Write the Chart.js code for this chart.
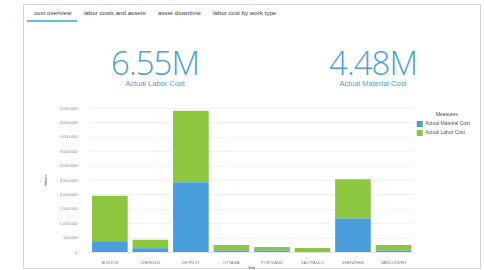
<!DOCTYPE html>
<html lang="en">
<head>
<meta charset="UTF-8">
<title>cost overview</title>
<script src="https://cdn.jsdelivr.net/npm/chart.js@4.4.0/dist/chart.umd.min.js"></script>
<style>
    body {
        margin: 0;
        width: 484px;
        height: 270px;
        background: #ffffff;
        font-family: 'Liberation Sans', Arial, sans-serif;
        overflow: hidden;
    }
    .panel {
        position: absolute;
        left: 23px;
        top: 4px;
        width: 458px;
        height: 265px;
        border: 1px solid #d4d4d4;
        box-sizing: border-box;
    }
    .tab {
        position: absolute;
        top: 9px;
        font-size: 6.2px;
        color: #3a3a3a;
        white-space: nowrap;
    }
    .underline {
        position: absolute;
        left: 27px;
        top: 20px;
        width: 50px;
        height: 2px;
        background: #5ebfd6;
    }
    .kpi {
        position: absolute;
        top: 46px;
        width: 160px;
        text-align: center;
        color: #4b9fd8;
    }
    .kpi .value {
        font-family: 'Open Sans', sans-serif;
        font-weight: 300;
        font-size: 33px;
        line-height: 34px;
        letter-spacing: -1px;
    }
    .kpi .label {
        font-size: 7.5px;
        margin-top: -1px;
    }
    .chart-box {
        position: absolute;
        left: 43px;
        top: 94px;
        width: 437px;
        height: 176px;
    }
</style>
</head>
<body>
<div class="panel"></div>
<span class="tab" style="left:34px">cost overview</span>
<span class="tab" style="left:84px">labor costs and assets</span>
<span class="tab" style="left:158px">asset downtime</span>
<span class="tab" style="left:213px">labor cost by work type</span>
<div class="underline"></div>
<div class="kpi" style="left:75px">
    <div class="value">6.55M</div>
    <div class="label">Actual Labor Cost</div>
</div>
<div class="kpi" style="left:293px">
    <div class="value">4.48M</div>
    <div class="label">Actual Material Cost</div>
</div>
<div class="chart-box">
    <canvas id="cost-chart"></canvas>
</div>

<script>
    // data
    const sites = ['BOSTON', 'CHENGDU', 'DETROIT', 'OTTAWA', 'PORTLAND', 'SAO PAULO', 'SHENZHEN', 'VANCOUVER'];
    const materialCost = [390000, 140000, 2440000, 70000, 70000, 40000, 1180000, 70000];
    const laborCost = [1580000, 300000, 2480000, 190000, 120000, 110000, 1360000, 190000];

    const blue = '#4a9edb';
    const green = '#8dc63f';

    new Chart(document.getElementById('cost-chart'), {
        type: 'bar',
        data: {
            labels: sites,
            datasets: [
                { label: 'Actual Material Cost', data: materialCost, backgroundColor: blue },
                { label: 'Actual Labor Cost', data: laborCost, backgroundColor: green }
            ]
        },
        options: {
            responsive: true,
            maintainAspectRatio: false,
            animation: false,
            devicePixelRatio: 1,
            categoryPercentage: 0.88,
            barPercentage: 1,
            layout: { padding: { top: 4, right: 0, bottom: 0, left: 0 } },
            plugins: {
                tooltip: { enabled: false },
                legend: {
                    position: 'right',
                    align: 'start',
                    title: {
                        display: true,
                        text: 'Measures',
                        color: '#444',
                        font: { size: 5 },
                        padding: { top: 14, bottom: 0 }
                    },
                    labels: {
                        boxWidth: 6,
                        boxHeight: 6,
                        padding: 3,
                        color: '#555',
                        font: { size: 5 }
                    }
                }
            },
            scales: {
                x: {
                    stacked: true,
                    grid: { display: false },
                    border: { color: '#e6e6e6' },
                    ticks: { color: '#777', font: { size: 4 }, maxRotation: 0, padding: 0 },
                    title: { display: true, text: 'Site', color: '#555', font: { size: 4 }, padding: 0 }
                },
                y: {
                    stacked: true,
                    min: 0,
                    max: 5000000,
                    grid: { color: '#f2f2f2', drawTicks: false },
                    border: { display: false },
                    ticks: {
                        stepSize: 500000,
                        color: '#888',
                        font: { size: 4 },
                        padding: 12,
                        callback: function(value) {
                            return value.toLocaleString('en-US');
                        }
                    },
                    title: { display: true, text: 'Values', color: '#555', font: { size: 4 }, padding: 0 }
                }
            }
        }
    });
</script>
</body>
</html>
